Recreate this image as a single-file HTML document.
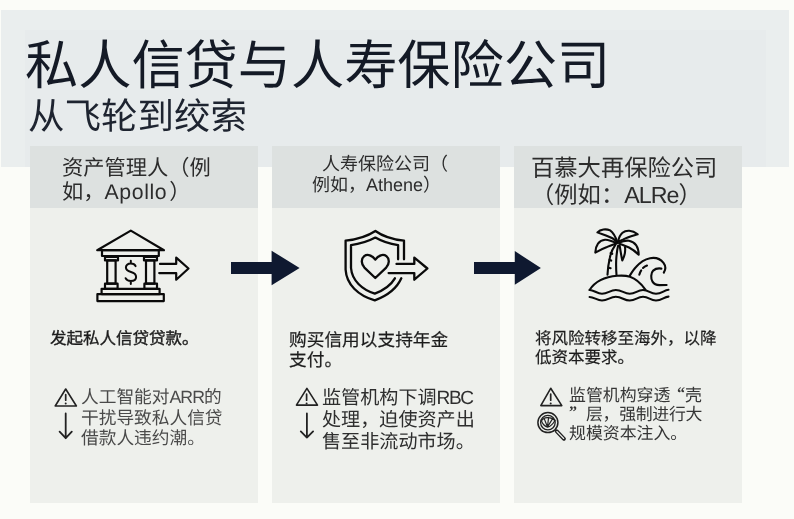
<!DOCTYPE html>
<html lang="zh-CN">
<head>
<meta charset="utf-8">
<style>
html,body{margin:0;padding:0;}
body{width:794px;height:519px;position:relative;overflow:hidden;background:#fbfcf8;font-family:"Liberation Sans",sans-serif;}
#band{position:absolute;left:1px;top:10px;width:788px;height:157px;background:#eaeeee;}
#band2{position:absolute;left:25px;top:30px;width:741px;height:137px;background:#e7ebec;}
.card{position:absolute;top:146px;width:228px;height:357px;background:#eef0ec;}
.hdr{position:absolute;left:0;top:0;width:228px;height:62px;background:#dde1e0;}
.t{position:absolute;white-space:nowrap;line-height:1;will-change:transform;text-rendering:geometricPrecision;}
#title{left:25px;top:40px;font-size:53.2px;color:#141a26;}
#sub{left:27.5px;top:98.5px;font-size:36.5px;color:#1e2430;}
.h{color:#2c2c2c;}
.b{color:#1c1c1c;-webkit-text-stroke:0.2px #1c1c1c;}
.w{color:#4a4a4a;}
.w3{color:#363636;}
.w2{color:#2e2e2e;}
.q{display:inline-block;width:0.82em;}
svg{position:absolute;left:0;top:0;}
</style>
</head>
<body>
<div id="band"></div><div id="band2"></div>
<div class="t" id="title">私人信贷与人寿保险公司</div>
<div class="t" id="sub">从飞轮到绞索</div>

<div class="card" style="left:30px"><div class="hdr"></div></div>
<div class="card" style="left:272px"><div class="hdr"></div></div>
<div class="card" style="left:514px"><div class="hdr"></div></div>

<!-- headers -->
<div class="t h" style="left:62px;top:158px;font-size:21.25px">资产管理人（例</div>
<div class="t h" style="left:62px;top:182px;font-size:21.25px">如，<span style="letter-spacing:0.6px">Apollo</span><span style="margin-left:2px">）</span></div>

<div class="t h" style="left:322px;top:155px;font-size:18px">人寿保险公司（</div>
<div class="t h" style="left:312px;top:175.5px;font-size:18px">例如，Athene）</div>

<div class="t h" style="left:531px;top:156.5px;font-size:23.3px">百慕大再保险公司</div>
<div class="t h" style="left:531px;top:184px;font-size:23.3px">（例如：<span style="letter-spacing:-1px">ALRe</span>）</div>

<!-- bodies -->
<div class="t b" style="left:50px;top:331px;font-size:16.5px;-webkit-text-stroke:0.35px #1a1a1a">发起私人信贷贷款。</div>

<div class="t b" style="left:289px;top:331.5px;font-size:17.7px">购买信用以支持年金</div>
<div class="t b" style="left:289px;top:351.8px;font-size:17.7px">支付。</div>

<div class="t b" style="left:535px;top:331px;font-size:16.5px">将风险转移至海外，以降</div>
<div class="t b" style="left:535px;top:350px;font-size:16.5px">低资本要求。</div>

<!-- warnings -->
<div class="t w" style="left:81px;top:389px;font-size:17.7px">人工智能对<span style="letter-spacing:-0.9px">ARR</span>的</div>
<div class="t w" style="left:81px;top:409.5px;font-size:17.7px">干扰导致私人信贷</div>
<div class="t w" style="left:81px;top:430px;font-size:17.7px">借款人违约潮。</div>

<div class="t w2" style="left:322px;top:388.5px;font-size:19.1px">监管机构下调<span style="letter-spacing:-1.4px">RBC</span></div>
<div class="t w2" style="left:322px;top:410.5px;font-size:19.1px">处理，迫使资产出</div>
<div class="t w2" style="left:322px;top:432.5px;font-size:19.1px">售至非流动市场。</div>

<div class="t w3" style="left:569px;top:388px;font-size:16.9px">监管机构穿透</div>
<div class="t w3" style="left:677px;top:386px;font-size:16px;font-family:'Liberation Serif',serif;font-weight:bold">“</div>
<div class="t w3" style="left:684.5px;top:388px;font-size:16.9px">壳</div>
<div class="t w3" style="left:569px;top:404.5px;font-size:16px;font-family:'Liberation Serif',serif;font-weight:bold">”</div>
<div class="t w3" style="left:585.5px;top:406.5px;font-size:16.9px;letter-spacing:-0.3px">层，强制进行大</div>
<div class="t w3" style="left:569px;top:425.5px;font-size:16.9px">规模资本注入。</div>

<svg width="794" height="519" viewBox="0 0 794 519">
  <!-- arrows between cards -->
  <path d="M231 262 H271.6 V250.7 L299.6 268 L271.6 285.3 V274 H231 Z" fill="#0f1930"/>
  <path d="M474 262 H514.8 V251.1 L540.9 268 L514.8 284.7 V274 H474 Z" fill="#0f1930"/>

  <!-- bank icon -->
  <g fill="none" stroke="#0a0a0a" stroke-width="2.2" stroke-linejoin="round" stroke-linecap="round">
    <path d="M97.2 250.2 L130.8 230.6 L164 250.2 Z"/>
    <rect x="102" y="250.2" width="56.8" height="5.8"/>
    <rect x="105" y="256.9" width="13" height="3.5"/>
    <rect x="107.2" y="260.4" width="8.4" height="23.3"/>
    <rect x="105" y="283.7" width="12.6" height="5.1"/>
    <rect x="144" y="256.9" width="13" height="3.5"/>
    <rect x="146" y="260.4" width="8.4" height="23.3"/>
    <rect x="144.4" y="283.7" width="12.6" height="5.1"/>
    <rect x="101.6" y="288.8" width="58" height="5.3"/>
    <rect x="97.4" y="294.1" width="66.4" height="7"/>
    <path d="M160 263.9 H176.2 V257.7 L188.5 268.5 L176.2 279.7 V273.1 H159.2"/>
    <path stroke-width="2" d="M135.6 266.2 C 134.8 264.3 133 263.5 130.8 263.5 C 127.6 263.5 125.9 265.3 125.9 267.6 C 125.9 270.4 128.4 271.3 131 272 C 134 272.8 136.1 274 136.1 277 C 136.1 279.6 133.9 281 130.8 281 C 128.2 281 126.4 280 125.6 278.2 M130.8 260.8 V263.5 M130.8 281 V284"/>
  </g>

  <!-- shield icon -->
  <g fill="none" stroke="#0a0a0a" stroke-width="2.3" stroke-linejoin="round" stroke-linecap="round">
    <path d="M404 259.3 V240.6 C 393 239.5 383 236.5 375.4 231 C 367 236.5 357 239.5 345.6 240.6 V269.6 C 346.5 284.5 358 295.5 374.8 300.4 C 388 295.5 397 288 401.3 278.3"/>
    <path d="M398.1 259.3 V245.2 C 390 244 382 241.5 375.4 237.6 C 368 241.5 360 244 351 245.2 V268 C 352 280.5 362 289.5 374.8 293.6 C 384 290 391 285 394.9 278.3"/>
    <path d="M375.3 259.6 C 372.4 255 367.2 253.8 364.2 256.2 C 360.8 259 361.2 264 364.4 267.6 L375.3 278 L386.2 267.6 C 389.4 264 389.8 259 386.4 256.2 C 383.4 253.8 378.2 255 375.3 259.6 Z"/>
    <path d="M396.5 263.9 H414.3 V257.7 L427.4 268.5 L414.3 279.7 V273.1 H388.6"/>
  </g>

  <!-- island icon -->
  <g fill="none" stroke="#0a0a0a" stroke-width="2.1" stroke-linejoin="round" stroke-linecap="round">
    <path d="M617.6 242.8 C 616 238 614 233 610.1 230.4 C 606 228.5 600.5 229.2 597.4 232.4 C 601 234 608 236 613.3 238.8 C 615 240 616.6 241.4 617.6 242.8 Z"/>
    <path d="M618.1 241.5 C 619 237 620.5 234.5 622.5 232.8 C 626 229.8 632 229.8 637.7 234.3 C 634 235.5 627 237.5 622.9 239.6 C 620.5 240.6 619 241.2 618.1 241.5 Z"/>
    <path d="M616.8 243.4 C 613 241.5 609 239.5 605 239.8 C 599 240.2 595.5 245.5 595.3 252.6 C 599 250.5 603 248.5 607 247 C 610.5 245.5 613.5 244.2 616.8 243.4 Z"/>
    <path d="M619.1 242.6 C 623 241 626 240.2 629 240.8 C 635 242 638.5 247 638.7 254.7 C 636 252 633 249.5 629 247.5 C 625 245.8 622 244.6 619.1 243.6 Z"/>
    <path d="M619.6 245.2 C 620.4 249.5 621 255 622.3 260.4 C 624.4 256.5 625.6 251.5 625 247.2"/>
    <path d="M615.4 244.8 C 612.5 248.5 610.8 253 609.8 258 C 608.4 264 607.7 269 607.5 274.6"/>
    <path d="M618.1 245.8 C 617 250 616.5 255 616.2 260 C 616 265 616.1 270 616.5 275"/>
    <path d="M610.6 253.2 L612.2 253.8 M609.4 260 L611.2 260.6 M608.9 267.8 L610.6 268.3"/>
    <path d="M589.6 290 C 594 283 603 277 617.4 275.8 C 623 275.4 627 275.8 630 276.8 C 636 278.8 641 283.5 645.4 289.6"/>
    <path d="M629.8 275.6 C 632 272 634 269 636 267 C 639.5 263 644.5 259.3 650 258.2 C 655.5 257.2 660.5 259 663.5 262.8 C 665.6 265.6 665.8 269.3 663.8 272.6"/>
    <path d="M661.4 268.6 C 658.5 268.1 655.5 268.5 653.2 270.6 C 650.8 273 650.6 278.5 652.5 281.6 C 654 284 656.5 285 659.5 285.1 L666.6 285"/>
    <path d="M639.3 274.8 C 639.8 273 640.4 271.5 641.2 270.3 M643 268 C 644 267 645.4 266.2 647 265.6"/>
    <path d="M589.6 290 C 594 290 597 293.7 602 293.7 C 608 293.7 610 290 615.8 290 C 622 290 624 293.7 629.7 293.7 C 636 293.7 637 290 643 290 C 649 290 650 293.7 656 293.7 C 662 293.7 664 290 668.5 289.8"/>
    <path d="M589.6 297 C 594 297 597 300.5 602 300.5 C 608 300.5 610 296.8 615.8 296.8 C 622 296.8 624 300.5 629.7 300.5 C 636 300.5 637 296.8 643 296.8 C 649 296.8 650 300.5 656 300.5 C 662 300.5 664 296.8 668.5 296.6"/>
  </g>

  <!-- warning triangles & down arrows -->
  <g fill="none" stroke="#222" stroke-width="1.6" stroke-linejoin="round" stroke-linecap="round">
    <path d="M65.7 389 L76.4 406 L55.2 406 Z"/>
    <path d="M65.7 413.4 V438.2 M59.6 431.6 L65.7 438.2 L71.8 431.6" stroke-width="1.8"/>
    <path d="M306.9 388.4 L317.5 405.1 L296.4 405.1 Z"/>
    <path d="M306.9 413.4 V437.6 M300.8 431.4 L306.9 437.6 L313.1 431.4" stroke-width="1.8"/>
    <path d="M550.7 388.3 L561.8 405.6 L540.8 405.6 Z"/>
    <path d="M65.7 394.6 V400.2 M306.6 394.2 V400.2 M550.7 394 V400.2" stroke-width="1.7"/>
    <!-- magnifier -->
    <circle cx="547.9" cy="422.6" r="10" stroke-width="1.5"/>
    <circle cx="547.9" cy="422.6" r="7.3" stroke-width="1.3"/>
    <path stroke-width="1.2" d="M541.5 421 C 543 417 551 416 555 420.5 C 553 424 550.5 426.5 547.5 427.2 C 545 426.2 542.5 424 541.5 421 Z M547.5 427 L544.2 418.6 M547.5 427 L548.6 417.3 M547.5 427 L552.6 418.6"/>
    <path d="M556.6 431.2 L564 438.8" stroke-width="3.8"/>
  </g>
  <path d="M556.9 431.5 L563.7 438.5" stroke="#eef0ec" stroke-width="1.1" stroke-linecap="round"/>
  <circle cx="65.7" cy="403.4" r="1" fill="#222"/>
  <circle cx="306.6" cy="403.4" r="1" fill="#222"/>
  <circle cx="550.7" cy="403.4" r="1" fill="#222"/>
</svg>
</body>
</html>
